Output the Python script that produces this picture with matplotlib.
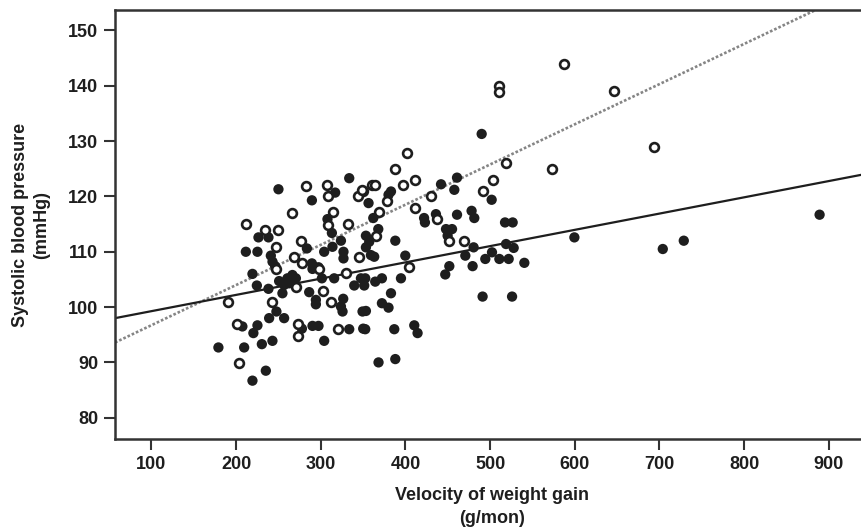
import matplotlib
matplotlib.use('Agg')
import matplotlib.pyplot as plt
import numpy as np

# open circles (x = g/mon, y = mmHg)
open_x = [587.7, 646.5, 694, 573, 510, 510,
          401.5, 388, 518.8, 411.6, 397.4, 361, 364, 350, 503, 492, 378, 430,
          411.6, 368.2, 436.8, 451, 469.5, 365, 404.5,
          282.4, 307.9, 309.1, 343.4, 348.6, 265.8, 315, 309.1, 332.7, 212.2,
          234.3, 250, 247.6, 276.5, 344.6, 268.6, 278.4,
          247.6, 270.6, 298.1, 329.7, 302.8, 312.6, 190.9, 242.9, 201.5, 273.6,
          272.5, 320.6, 203.5]
open_y = [144.0, 139.0, 128.9, 125.0, 139.9, 138.9,
          127.9, 125.0, 126.0, 123.0, 122.0, 122.1, 122.1, 121.0, 123.0, 121.0, 119.1, 120.0,
          118.0, 117.1, 115.9, 112.0, 112.0, 112.9, 107.3,
          121.9, 122.1, 120.0, 120.0, 121.1, 117.0, 117.1, 114.9, 115.0, 115.0,
          114.0, 114.0, 110.9, 112.0, 109.0, 109.0, 107.9,
          106.9, 103.7, 106.9, 106.1, 102.9, 101.0, 100.9, 101.0, 96.9, 96.9,
          94.8, 96.1, 89.9]

# filled circles
filled_x = [599.5, 703.9, 728.7, 889.1, 490,
            460.9, 442, 457.7, 382.9, 380, 501.8, 356.4, 362, 436, 422, 423, 460.9,
            478.1, 481.3, 517.6, 526.6, 367.9, 447.9, 455, 449.8, 353.3, 357.2, 388,
            518.8, 527.8, 480.5, 353.3, 359.2, 363.1, 399.8, 470.7, 502.2, 494.3,
            510.9, 521.9, 540.4, 451.8, 479.3,
            447, 352.5, 351.3, 364.3, 372.2, 394.7, 382.9, 372.2, 380, 353.3, 352.5,
            386.8, 410.4, 414.3, 368.2, 388, 491.1, 525.9,
            250, 333.6, 289.5, 317, 307.9, 313.1, 226.4, 238.2, 211.5, 225.2, 283.6,
            241, 243, 304, 313.8, 326.8, 326.8, 289.5, 297.3, 246.1, 323.8,
            219.3, 224.5, 238.2, 250.8, 260.6, 266.5, 270.6, 256.7, 262.6, 254.7,
            290.2, 301.3, 315.8, 339.5, 347.4, 286.3, 294.2, 294.2, 326.5, 323.8,
            325.7, 349.3, 247.6, 239, 256.7, 207.4, 225.2, 220.4, 277.7, 290.2,
            297.3, 333.6, 350.1, 304, 242.9, 230.4, 209.5, 179.1, 235.1, 219.3]
filled_y = [112.6, 110.5, 112.0, 116.7, 131.3,
            123.4, 122.2, 121.2, 120.9, 120.3, 119.4, 118.8, 116.1, 116.8, 116.1, 115.3, 116.7,
            117.4, 116.1, 115.3, 115.3, 114.1, 114.1, 114.1, 112.9, 112.9, 111.8, 112.0,
            111.4, 110.7, 110.8, 110.8, 109.4, 109.1, 109.3, 109.3, 109.9, 108.7,
            108.7, 108.7, 108.0, 107.4, 107.4,
            105.9, 105.2, 103.9, 104.6, 105.2, 105.2, 102.5, 100.7, 99.9, 99.3, 96.0,
            96.0, 96.7, 95.3, 90.0, 90.6, 101.9, 101.9,
            121.3, 123.3, 119.3, 120.7, 115.9, 113.4, 112.6, 112.6, 110.0, 110.0, 110.6,
            109.3, 108.2, 110.0, 110.9, 110.0, 108.8, 107.9, 107.2, 107.4, 112.0,
            106.0, 103.9, 103.3, 104.7, 105.2, 105.8, 105.2, 104.0, 104.3, 102.5,
            106.9, 105.2, 105.2, 103.9, 105.2, 102.7, 101.3, 100.5, 101.5, 100.1,
            99.2, 99.2, 99.2, 98.0, 98.0, 96.5, 96.7, 95.3, 96.1, 96.6,
            96.6, 96.0, 96.1, 93.9, 93.9, 93.3, 92.7, 92.7, 88.5, 86.7]

# fitted lines, end points
line_x = [57, 938]
solid_y = [98.0, 123.9]
dotted_y = [93.6, 157.6]

xticks = [100, 200, 300, 400, 500, 600, 700, 800, 900]
yticks = [80, 90, 100, 110, 120, 130, 140, 150]

plt.rcParams['font.family'] = ['Liberation Sans', 'DejaVu Sans']
plt.rcParams['font.weight'] = 'bold'

fig = plt.figure(figsize=(8.61, 5.28), dpi=100)
ax = fig.add_axes([0.1336, 0.168, 0.8664, 0.813])

ink = '#1e1e1e'
ax.plot(line_x, dotted_y, color='#858585', linestyle=(0, (1.0, 0.75)), linewidth=1.9,
        dash_capstyle='butt', zorder=2)
ax.plot(line_x, solid_y, color=ink, linestyle='-', linewidth=1.6, zorder=2)
ax.scatter(filled_x, filled_y, s=55, color=ink, edgecolors='none', zorder=3)
ax.scatter(open_x, open_y, s=40, facecolors='white', edgecolors=ink, linewidths=1.9, zorder=4)

ax.set_xlim(57, 938)
ax.set_ylim(76.1, 153.7)
ax.set_xticks(xticks)
ax.set_yticks(yticks)
ax.tick_params(axis='both', direction='out', length=8, width=1.5, color='#333333',
               labelsize=13, pad=4, labelcolor='#1e1e1e')
for lab in ax.get_xticklabels() + ax.get_yticklabels():
    lab.set_fontweight('bold')

for side in ['left', 'bottom', 'top']:
    ax.spines[side].set_linewidth(1.8)
    ax.spines[side].set_color('#333333')
ax.spines['right'].set_visible(False)

ax.set_xlabel('Velocity of weight gain\n(g/mon)', fontsize=13, fontweight='bold',
              linespacing=1.45, color='#1e1e1e')
ax.xaxis.set_label_coords(0.505, -0.112)
ax.set_ylabel('Systolic blood pressure\n(mmHg)', fontsize=13, fontweight='bold',
              linespacing=1.3, color='#1e1e1e')
ax.yaxis.set_label_coords(-0.087, 0.5)

fig.savefig('out.png', dpi=100)
